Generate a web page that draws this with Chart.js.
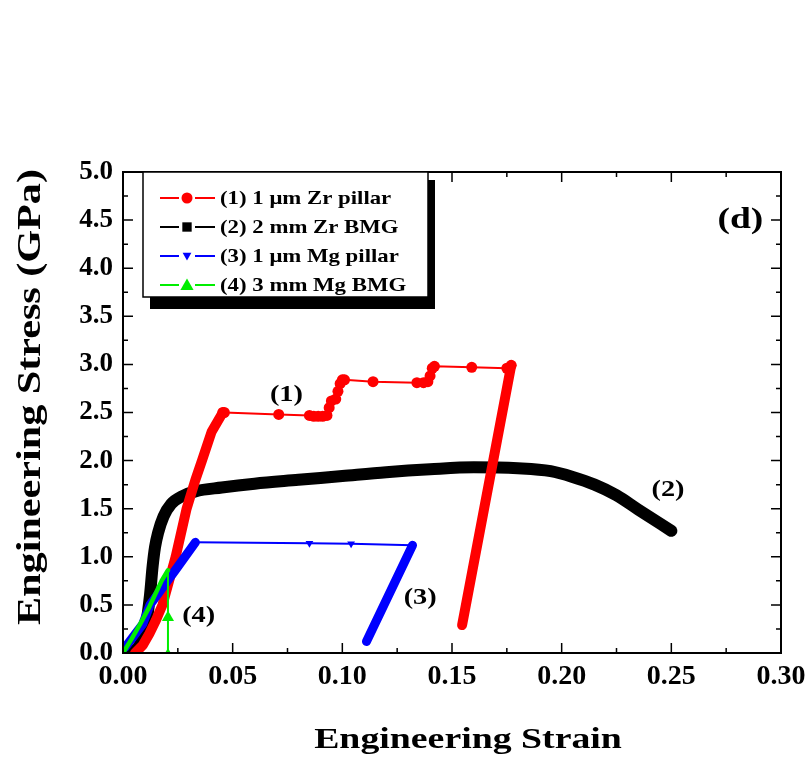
<!DOCTYPE html>
<html>
<head>
<meta charset="utf-8">
<script src="https://cdn.jsdelivr.net/npm/chart.js@4.4.1/dist/chart.umd.min.js"></script>
<style>
  html, body { margin: 0; padding: 0; background: #fff; }
  #wrap { width: 807px; height: 761px; position: relative; }
</style>
</head>
<body>
<div id="wrap"><canvas id="chart" width="807" height="761"></canvas></div>
<script>
// axis ticks
const xTicks = [0, 0.05, 0.10, 0.15, 0.20, 0.25, 0.30];
const yTicks = [0, 0.5, 1.0, 1.5, 2.0, 2.5, 3.0, 3.5, 4.0, 4.5, 5.0];

// (1) 1 um Zr pillar : loading (dense), plateau with markers, unloading (dense)
const zrPillarLoad = [[0.0055, 0], [0.009, 0.08], [0.012, 0.2], [0.015, 0.34], [0.018, 0.5], [0.021, 0.75], [0.024, 1.0], [0.029, 1.5], [0.033, 1.8], [0.036, 2.0], [0.0404, 2.3], [0.0455, 2.5]];
const zrPillarPlateau = [[0.0455, 2.5], [0.0462, 2.5], [0.071, 2.48], [0.085, 2.47], [0.087, 2.46], [0.089, 2.46], [0.091, 2.46], [0.093, 2.47], [0.094, 2.55], [0.095, 2.62], [0.097, 2.64], [0.098, 2.72], [0.099, 2.8], [0.100, 2.84], [0.101, 2.84], [0.114, 2.82], [0.134, 2.81], [0.137, 2.81], [0.139, 2.82], [0.140, 2.88], [0.141, 2.96], [0.142, 2.98], [0.159, 2.97], [0.175, 2.96], [0.177, 2.99]];
const zrPillarUnload = [[0.177, 2.99], [0.1546, 0.29]];

// (2) 2 mm Zr BMG
const zrBmg = [[0.004, 0], [0.008, 0.1], [0.0105, 0.3], [0.0123, 0.6], [0.0135, 0.9], [0.0146, 1.1], [0.016, 1.25], [0.0185, 1.42], [0.022, 1.55], [0.027, 1.63], [0.033, 1.68], [0.045, 1.72], [0.06, 1.76], [0.08, 1.80], [0.10, 1.84], [0.12, 1.88], [0.14, 1.91], [0.16, 1.93], [0.18, 1.92], [0.195, 1.89], [0.205, 1.83], [0.215, 1.75], [0.225, 1.64], [0.235, 1.49], [0.25, 1.27]];

// (3) 1 um Mg pillar
const mgPillarLoad = [[0.001, 0.06], [0.005, 0.18], [0.009, 0.3], [0.0123, 0.5], [0.0203, 0.75], [0.0235, 0.85], [0.033, 1.15]];
const mgPillarPlateau = [[0.033, 1.15], [0.085, 1.14], [0.104, 1.135], [0.132, 1.12]];
const mgPillarUnload = [[0.132, 1.12], [0.111, 0.12]];

// (4) 3 mm Mg BMG
const mgBmgLoad = [[0.0, 0.0], [0.004, 0.15], [0.0078, 0.3], [0.012, 0.48], [0.0176, 0.75], [0.0205, 0.86]];
const mgBmgDrop = [[0.0205, 0.86], [0.0205, 0.37], [0.0205, 0.0]];

const legendLabels = ['(1) 1 \u03bcm Zr pillar', '(2) 2 mm Zr BMG', '(3) 1 \u03bcm Mg pillar', '(4) 3 mm Mg BMG'];
const legendColors = ['#ff0000', '#000000', '#0000ff', '#00ee00'];
const legendMarkers = ['circle', 'rect', 'triangleDown', 'triangle'];

// curve labels, placed in data units
const curveLabels = [
    { text: '(1)', x: 0.0745, y: 2.68 },
    { text: '(2)', x: 0.2485, y: 1.70 },
    { text: '(3)', x: 0.1355, y: 0.57 },
    { text: '(4)', x: 0.0345, y: 0.39 }
];
const panelLabel = { text: '(d)', x: 0.2815, y: 4.5 };

const FONT = "'Liberation Serif', 'Times New Roman', serif";
const toXY = arr => arr.map(p => ({ x: p[0], y: p[1] }));

function thick(data, color, width, extra) {
    return Object.assign({
        data: toXY(data), showLine: true, borderColor: color, backgroundColor: color,
        borderWidth: width, pointRadius: 0, borderCapStyle: 'round', borderJoinStyle: 'round'
    }, extra || {});
}
function thin(data, color, style, radius, rotation) {
    return {
        data: toXY(data), showLine: true, borderColor: color, backgroundColor: color,
        borderWidth: 2, pointRadius: radius, pointStyle: style, pointBorderWidth: 0,
        pointRotation: rotation || 0
    };
}

// text drawn a little wider than the font, like the original figure
function wideText(ctx, text, x, y, sx) {
    ctx.save();
    ctx.translate(x, y);
    ctx.scale(sx, 1);
    ctx.fillText(text, 0, 0);
    ctx.restore();
}

// marker shape for the custom legend
function drawMarker(ctx, style, x, y, r, color) {
    ctx.fillStyle = color;
    ctx.beginPath();
    if (style === 'circle') {
        ctx.arc(x, y, r, 0, Math.PI * 2);
    } else if (style === 'rect') {
        ctx.rect(x - r * 0.85, y - r * 0.85, 1.7 * r, 1.7 * r);
    } else if (style === 'triangle') {
        ctx.moveTo(x, y - r * 1.2); ctx.lineTo(x + r * 1.2, y + r * 0.9); ctx.lineTo(x - r * 1.2, y + r * 0.9);
    } else {
        ctx.moveTo(x, y + r * 0.8); ctx.lineTo(x + r * 0.8, y - r * 0.6); ctx.lineTo(x - r * 0.8, y - r * 0.6);
    }
    ctx.closePath();
    ctx.fill();
}

const framePlugin = {
    id: 'frame',
    afterDraw(chart) {
        const { ctx, chartArea: a, scales } = chart;
        const xs = scales.x, ys = scales.y;
        ctx.save();
        // frame
        ctx.strokeStyle = '#000';
        ctx.lineWidth = 2;
        ctx.strokeRect(a.left, a.top, a.right - a.left, a.bottom - a.top);
        // inward ticks on all four sides
        ctx.lineWidth = 1.5;
        ctx.beginPath();
        for (let i = 0; i <= 12; i++) {
            const px = xs.getPixelForValue(i * 0.025);
            const len = i % 2 === 0 ? 10 : 5;
            ctx.moveTo(px, a.bottom); ctx.lineTo(px, a.bottom - len);
            ctx.moveTo(px, a.top); ctx.lineTo(px, a.top + len);
        }
        for (let i = 0; i <= 20; i++) {
            const py = ys.getPixelForValue(i * 0.25);
            const len = i % 2 === 0 ? 10 : 5;
            ctx.moveTo(a.left, py); ctx.lineTo(a.left + len, py);
            ctx.moveTo(a.right, py); ctx.lineTo(a.right - len, py);
        }
        ctx.stroke();

        // axis titles
        ctx.fillStyle = '#000';
        ctx.font = 'bold 30px ' + FONT;
        ctx.textAlign = 'center';
        ctx.textBaseline = 'alphabetic';
        wideText(ctx, 'Engineering Strain', 468, 748, 1.26);
        ctx.save();
        ctx.translate(40, 397);
        ctx.rotate(-Math.PI / 2);
        ctx.font = 'bold 34px ' + FONT;
        wideText(ctx, 'Engineering Stress (GPa)', 0, 0, 1.24);
        ctx.restore();

        // curve labels
        ctx.textBaseline = 'middle';
        ctx.font = 'bold 24px ' + FONT;
        curveLabels.forEach(l => {
            wideText(ctx, l.text, xs.getPixelForValue(l.x), ys.getPixelForValue(l.y), 1.18);
        });
        ctx.font = 'bold 30px ' + FONT;
        wideText(ctx, panelLabel.text, xs.getPixelForValue(panelLabel.x), ys.getPixelForValue(panelLabel.y), 1.25);

        // legend box with shadow
        const bx = a.left + 20, by = a.top, bw = 285, bh = 125;
        ctx.fillStyle = '#000';
        ctx.fillRect(bx + 7, by + bh, bw, 12);
        ctx.fillRect(bx + bw, by + 8, 7, bh + 4);
        ctx.fillStyle = '#fff';
        ctx.fillRect(bx, by, bw, bh);
        ctx.lineWidth = 1.5;
        ctx.strokeStyle = '#000';
        ctx.strokeRect(bx, by, bw, bh);
        ctx.font = 'bold 19px ' + FONT;
        ctx.textAlign = 'left';
        legendLabels.forEach((t, i) => {
            const ry = by + 26 + i * 29;
            ctx.strokeStyle = legendColors[i];
            ctx.lineWidth = 2;
            ctx.beginPath();
            ctx.moveTo(bx + 17, ry); ctx.lineTo(bx + 36, ry);
            ctx.moveTo(bx + 52, ry); ctx.lineTo(bx + 72, ry);
            ctx.stroke();
            drawMarker(ctx, legendMarkers[i], bx + 44, ry, 5.5, legendColors[i]);
            ctx.fillStyle = '#000';
            wideText(ctx, t, bx + 77, ry + 1, 1.2);
        });
        ctx.restore();
    }
};

new Chart(document.getElementById('chart'), {
    type: 'scatter',
    data: {
        datasets: [
            thick(mgBmgLoad, '#00ee00', 4.5),
            thin(mgBmgDrop, '#00ee00', 'triangle', c => [0, 7, 5][c.dataIndex]),
            thick(mgPillarLoad, '#0000ff', 9),
            thick(mgPillarUnload, '#0000ff', 9),
            thin(mgPillarPlateau, '#0000ff', 'triangle', c => (c.dataIndex === 1 || c.dataIndex === 2) ? 4.5 : 0, 180),
            thick(zrPillarLoad, '#ff0000', 10),
            thick(zrPillarUnload, '#ff0000', 10),
            thin(zrPillarPlateau, '#ff0000', 'circle', 5.5),
            thick(zrBmg, '#000000', 12, { cubicInterpolationMode: 'monotone' })
        ]
    },
    options: {
        responsive: false,
        animation: false,
        layout: { padding: { top: 172, right: 26, left: 0, bottom: 0 } },
        plugins: { legend: { display: false }, tooltip: { enabled: false } },
        scales: {
            x: {
                type: 'linear', min: 0, max: 0.3,
                afterBuildTicks: s => { s.ticks = xTicks.map(v => ({ value: v })); },
                afterFit: s => { s.height = 108; s.paddingLeft = 0; s.paddingRight = 0; },
                grid: { display: false, drawTicks: false },
                border: { display: false },
                ticks: {
                    color: '#000', padding: 7,
                    font: { family: FONT, size: 28, weight: 'bold' },
                    callback: v => v.toFixed(2)
                }
            },
            y: {
                type: 'linear', min: 0, max: 5,
                afterBuildTicks: s => { s.ticks = yTicks.map(v => ({ value: v })); },
                afterFit: s => { s.width = 123; s.paddingTop = 0; s.paddingBottom = 0; },
                grid: { display: false, drawTicks: false },
                border: { display: false },
                ticks: {
                    color: '#000', padding: 10,
                    font: { family: FONT, size: 27, weight: 'bold' },
                    callback: v => v.toFixed(1)
                }
            }
        }
    },
    plugins: [framePlugin]
});
</script>
</body>
</html>
